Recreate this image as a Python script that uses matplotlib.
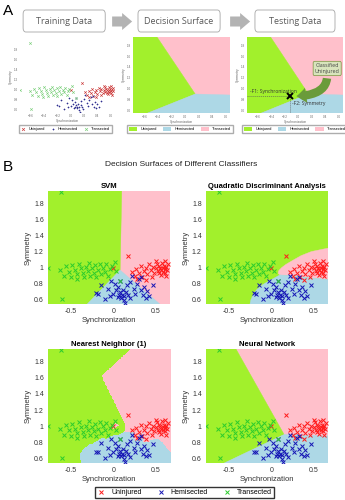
import numpy as np
import matplotlib
matplotlib.use('Agg')
import matplotlib.pyplot as plt
from matplotlib.colors import ListedColormap
from matplotlib.lines import Line2D
from matplotlib.patches import Patch, FancyBboxPatch, FancyArrow, FancyArrowPatch

plt.rcParams['font.family'] = ['Liberation Sans', 'DejaVu Sans']

# feature values (x = synchronization, y = symmetry)
uninj_x = [0.17, 0.00, 0.22, 0.25, 0.27, 0.30, 0.32, 0.34, 0.36, 0.38, 0.40, 0.42, 0.44, 0.46,
	0.48, 0.50, 0.51, 0.52, 0.53, 0.54, 0.55, 0.56, 0.57, 0.58, 0.58, 0.59, 0.60, 0.60,
	0.61, 0.62, 0.63, 0.64, 0.56, 0.62, 0.50, 0.45, 0.28, 0.38]
uninj_y = [1.14, 1.00, 0.95, 0.90, 0.98, 0.93, 1.02, 0.88, 0.96, 1.00, 0.92, 1.04, 0.97, 1.01,
	0.94, 0.99, 1.05, 0.96, 1.02, 0.93, 1.00, 0.97, 1.06, 0.99, 0.95, 1.02, 0.98, 1.08,
	0.94, 1.01, 0.97, 1.04, 0.91, 0.90, 1.08, 0.89, 0.86, 0.85]
hemi_x = [-0.20, -0.18, -0.14, -0.10, -0.06, -0.03, 0.00, 0.02, 0.03, 0.05, 0.06, 0.07, 0.08,
	0.09, 0.10, 0.11, 0.12, 0.13, 0.14, 0.15, 0.16, 0.17, 0.20, 0.22, 0.24, 0.26, 0.28,
	0.30, 0.32, 0.33, 0.35, 0.36, 0.38, 0.40, 0.42, 0.46, -0.04, 0.19, 0.08]
hemi_y = [0.69, 0.68, 0.79, 0.61, 0.74, 0.84, 0.68, 0.80, 0.72, 0.64, 0.76, 0.66, 0.70,
	0.63, 0.66, 0.72, 0.65, 0.60, 0.56, 0.70, 0.78, 0.66, 0.82, 0.90, 0.74, 0.68, 0.80,
	0.86, 0.72, 0.88, 0.66, 0.76, 0.63, 0.71, 0.65, 0.78, 0.65, 0.62, 0.84]
trans_x = [-0.62, -0.58, -0.55, -0.52, -0.50, -0.48, -0.45, -0.43, -0.42, -0.40, -0.38, -0.36,
	-0.34, -0.32, -0.30, -0.28, -0.27, -0.25, -0.23, -0.21, -0.20, -0.18, -0.16, -0.14,
	-0.12, -0.10, -0.08, -0.06, -0.04, -0.02, 0.02, 0.03, 0.08, -0.615, -0.76, -0.60]
trans_y = [0.97, 0.90, 1.02, 0.95, 0.88, 1.03, 0.97, 0.92, 0.86, 1.05, 0.99, 0.93,
	0.88, 1.01, 0.96, 1.06, 0.90, 0.99, 0.94, 1.03, 0.88, 0.97, 1.05, 0.92,
	1.00, 0.95, 1.04, 0.90, 0.98, 1.02, 1.07, 0.96, 0.84, 1.94, 1.00, 0.61]

svm_trans_x = [-0.80, -0.35, 0.08, 0.10, -0.80]
svm_trans_y = [0.50, 0.50, 0.97, 2.00, 2.00]
svm_hemi_x = [-0.35, 0.60, 0.08]
svm_hemi_y = [0.50, 0.50, 0.97]
qda_uninj_x = [0.70, 0.47, 0.35, 0.25, 0.17, 0.12, 0.085, 0.08, 0.10, 0.20, 0.33, 0.50, 0.70]
qda_uninj_y = [1.25, 1.20, 1.15, 1.09, 1.04, 1.00, 0.96, 0.93, 0.91, 0.905, 0.89, 0.87, 0.85]
qda_hemi_x = [-0.26, -0.24, -0.21, -0.17, -0.10, -0.02, 0.05, 0.10, 0.20, 0.33, 0.50, 0.70, 0.70]
qda_hemi_y = [0.50, 0.60, 0.67, 0.73, 0.79, 0.84, 0.88, 0.91, 0.905, 0.89, 0.87, 0.85, 0.50]
nn_trans_x = [-0.80, -0.65, 0.15, -0.44, -0.80]
nn_trans_y = [0.50, 0.50, 0.90, 2.00, 2.00]
nn_hemi_x = [-0.65, 0.70, 0.70, 0.15]
nn_hemi_y = [0.50, 0.50, 0.88, 0.90]

test_x, test_y = -0.13, 0.86

classes = ['Uninjured', 'Hemisected', 'Transected']
pts_x = [uninj_x, hemi_x, trans_x]
pts_y = [uninj_y, hemi_y, trans_y]
mark_cols = ['#ff1a1a', '#1515b5', '#2ccc2c']
pink, lblue, lime = '#ffc0cb', '#add8e6', '#a2f02c'
region_cmap = ListedColormap([pink, lblue, lime])

xlim = (-0.765, 0.665)
ylim = (0.55, 1.95)

gx, gy = np.meshgrid(np.linspace(xlim[0], xlim[1], 300), np.linspace(ylim[0], ylim[1], 300))
all_x = np.concatenate(pts_x)
all_y = np.concatenate(pts_y)
all_lab = np.concatenate([np.full(len(v), i) for i, v in enumerate(pts_x)])

def nearest_neighbor():
	d = (gx[..., None] - all_x) ** 2 + (gy[..., None] - all_y) ** 2
	return all_lab[np.argmin(d, axis=-1)]

def regions(ax, bg, layers):
	ax.set_facecolor(bg)
	for rx, ry, c in layers:
		ax.fill(rx, ry, color=c, lw=0.3)

def points(ax, ms=3.2, mew=0.7):
	for cx, cy, c in zip(pts_x, pts_y, mark_cols):
		ax.plot(cx, cy, 'x', color=c, ms=ms, mew=mew, ls='none')

def style(ax, title):
	ax.set_xlim(xlim)
	ax.set_ylim(ylim)
	ax.set_xticks([-0.5, 0, 0.5])
	ax.set_xticklabels(['-0.5', '0', '0.5'])
	ax.set_yticks([0.6, 0.8, 1, 1.2, 1.4, 1.6, 1.8])
	ax.set_yticklabels(['0.6', '0.8', '1', '1.2', '1.4', '1.6', '1.8'])
	ax.tick_params(labelsize=5, length=0, pad=3, colors='#333333')
	for s in ax.spines.values():
		s.set_visible(False)
	ax.set_title(title, fontsize=5.5, fontweight='bold', pad=2)
	ax.set_xlabel('Synchronization', fontsize=5.5, labelpad=1.5, color='#333333')
	ax.set_ylabel('Symmetry', fontsize=5.5, labelpad=1.5, color='#333333')

def small_style(ax):
	ax.set_xlim(xlim)
	ax.set_ylim(ylim)
	ax.set_xticks(np.round(np.arange(-0.6, 0.61, 0.2), 1))
	ax.set_yticks(np.round(np.arange(0.6, 1.81, 0.2), 1))
	ax.tick_params(labelsize=2.2, length=0, pad=1.5, colors='#666666')
	for s in ax.spines.values():
		s.set_visible(False)
	ax.set_xlabel('Synchronization', fontsize=2.3, labelpad=0.5, color='#666666')
	ax.set_ylabel('Symmetry', fontsize=2.3, labelpad=0.5, color='#666666')

nn_layers = [(nn_trans_x, nn_trans_y, lime), (nn_hemi_x, nn_hemi_y, lblue)]

fig = plt.figure(figsize=(3.45, 5.0), dpi=100)

# ---- panel A
fig.text(0.008, 0.992, 'A', fontsize=11, va='top', ha='left')
for x0, w, txt in [(0.067, 0.238, 'Training Data'), (0.400, 0.238, 'Decision Surface'), (0.739, 0.232, 'Testing Data')]:
	fig.patches.append(FancyBboxPatch((x0, 0.936), w, 0.044, boxstyle='round,pad=0,rounding_size=0.008',
		transform=fig.transFigure, fc='white', ec='#a6a6a6', lw=0.6))
	fig.text(x0 + w / 2, 0.958, txt, fontsize=6.5, ha='center', va='center', color='#595959', family=['Open Sans', 'DejaVu Sans'])
for x0 in [0.325, 0.667]:
	fig.patches.append(FancyArrow(x0, 0.957, 0.058, 0, width=0.02, head_width=0.034, head_length=0.029,
		length_includes_head=True, transform=fig.transFigure, fc='#b3b3b3', ec='none'))

a1 = fig.add_axes([0.058, 0.776, 0.275, 0.14])
for cx, cy, c, m in zip(pts_x, pts_y, ['#cc3a3a', '#303090', '#7ccf7c'], ['x', '+', 'x']):
	a1.plot(cx, cy, m, color=c, ms=1.8, mew=0.45, ls='none')
small_style(a1)
a1.legend(handles=[Line2D([], [], ls='none', marker=m, color=c, ms=2, mew=0.5, label=l)
	for l, c, m in zip(classes, ['#cc3a3a', '#303090', '#7ccf7c'], ['x', '+', 'x'])],
	loc='center', bbox_to_anchor=(0.19, 0.742), bbox_transform=fig.transFigure, ncol=3, fontsize=2.8,
	frameon=True, fancybox=False, edgecolor='#999999', handlelength=1, columnspacing=1.5, borderpad=0.5)

surf_handles = [Patch(fc=c, ec='none', label=l) for c, l in zip([lime, lblue, pink], classes)]
a2 = fig.add_axes([0.386, 0.774, 0.281, 0.152])
regions(a2, pink, nn_layers)
small_style(a2)
a2.legend(handles=surf_handles, loc='center', bbox_to_anchor=(0.522, 0.742), bbox_transform=fig.transFigure,
	ncol=3, fontsize=2.8, frameon=True, fancybox=False, edgecolor='#999999', handlelength=2.2,
	handleheight=1.1, columnspacing=1.5, borderpad=0.4)

a3 = fig.add_axes([0.716, 0.774, 0.278, 0.152])
regions(a3, pink, nn_layers)
small_style(a3)
a3.plot([xlim[0], test_x], [test_y, test_y], ls=(0, (2, 1.5)), color='#555555', lw=0.4)
a3.plot([test_x, test_x], [ylim[0], test_y], ls=(0, (2, 1.5)), color='#555555', lw=0.4)
a3.add_patch(FancyArrowPatch((0.43, 1.24), (test_x + 0.06, test_y), connectionstyle='angle3,angleA=90,angleB=0',
	arrowstyle='simple,head_length=0.7,head_width=1.1,tail_width=0.6', mutation_scale=10, fc='#6a9b3a', ec='none'))
a3.plot(test_x, test_y, 'x', color='black', ms=4, mew=1.4)
a3.text(-0.72, 0.92, '-F1: Synchronization', fontsize=3.6, color='#333333', family=['Open Sans', 'DejaVu Sans'])
a3.text(-0.10, 0.70, '-F2: Symmetry', fontsize=3.6, color='#333333', family=['Open Sans', 'DejaVu Sans'])
a3.text(0.43, 1.37, 'Classified\nUninjured', fontsize=3.8, ha='center', va='center', color='#444444',
	linespacing=1.3, family=['Open Sans', 'DejaVu Sans'],
	bbox=dict(boxstyle='round,pad=0.3,rounding_size=0.3', fc='#d8e4bc', ec='#77933c', lw=0.5))
a3.legend(handles=surf_handles, loc='center', bbox_to_anchor=(0.855, 0.742), bbox_transform=fig.transFigure,
	ncol=3, fontsize=2.8, frameon=True, fancybox=False, edgecolor='#999999', handlelength=2.2,
	handleheight=1.1, columnspacing=1.5, borderpad=0.4)

# ---- panel B
fig.text(0.008, 0.666, 'B', fontsize=11, va='center', ha='left')
fig.text(0.525, 0.672, 'Decision Surfaces of Different Classifiers', fontsize=6, ha='center', va='center', color='#222222')

ax1 = fig.add_axes([0.139, 0.392, 0.354, 0.226])
regions(ax1, pink, [(svm_trans_x, svm_trans_y, lime), (svm_hemi_x, svm_hemi_y, lblue)])
points(ax1)
style(ax1, 'SVM')

ax2 = fig.add_axes([0.597, 0.392, 0.354, 0.226])
regions(ax2, lime, [(qda_uninj_x, qda_uninj_y, pink), (qda_hemi_x, qda_hemi_y, lblue)])
points(ax2)
style(ax2, 'Quadratic Discriminant Analysis')

ax3 = fig.add_axes([0.139, 0.074, 0.354, 0.228])
ax3.imshow(nearest_neighbor(), origin='lower', extent=[*xlim, *ylim], cmap=region_cmap, vmin=0, vmax=2,
	aspect='auto', interpolation='nearest')
points(ax3)
style(ax3, 'Nearest Neighbor (1)')

ax4 = fig.add_axes([0.597, 0.074, 0.354, 0.228])
regions(ax4, pink, nn_layers)
points(ax4)
style(ax4, 'Neural Network')

fig.legend(handles=[Line2D([], [], ls='none', marker='x', color=c, ms=3, mew=0.7, label=l)
	for l, c in zip(classes, mark_cols)], loc='center', bbox_to_anchor=(0.535, 0.015), ncol=3,
	fontsize=5, frameon=True, fancybox=False, edgecolor='#333333', handlelength=1.2, columnspacing=2.2,
	borderpad=0.35, framealpha=1)

fig.savefig('out.png', dpi=100)
